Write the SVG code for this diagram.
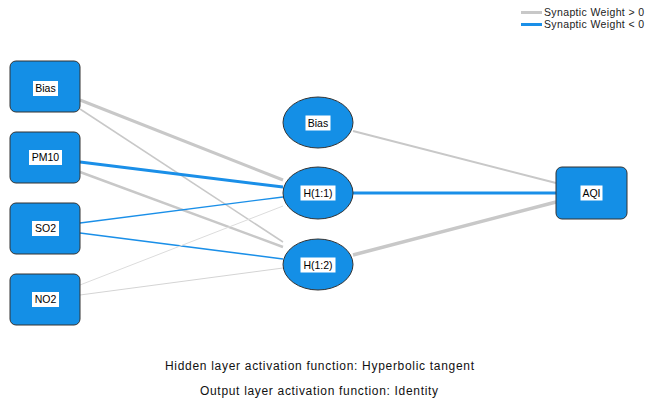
<svg xmlns="http://www.w3.org/2000/svg" width="645" height="403" viewBox="0 0 645 403">
<style>
.node{fill:#148fe6;stroke:#333;stroke-width:1}
.lbg{fill:#fff}
.lbl{font-family:"Liberation Sans",Arial,sans-serif;font-size:10.5px;fill:#000;text-anchor:middle}
.pos{stroke:#c8c8c8;fill:none;stroke-linecap:butt}
.neg{stroke:#1a8fe8;fill:none}
.leg{font-family:"Liberation Sans",Arial,sans-serif;font-size:10.5px;fill:#222}
.foot{font-family:"Liberation Sans",Arial,sans-serif;font-size:12px;fill:#111;text-anchor:middle}
</style>
<rect width="645" height="403" fill="#fff"/>
<g id="legend">
<line x1="521" y1="12.5" x2="542" y2="12.5" class="pos" stroke-width="3"/>
<text x="544" y="16" class="leg" textLength="100" lengthAdjust="spacing">Synaptic Weight &gt; 0</text>
<line x1="521" y1="24.5" x2="542" y2="24.5" class="neg" stroke-width="3"/>
<text x="544" y="28" class="leg" textLength="100" lengthAdjust="spacing">Synaptic Weight &lt; 0</text>
</g>
<g id="connectors">
<line x1="80" y1="100" x2="283" y2="180" class="pos" stroke-width="3"/>
<line x1="80" y1="109" x2="283" y2="242" class="pos" stroke-width="1.5"/>
<line x1="80" y1="162" x2="283" y2="187" class="neg" stroke-width="3"/>
<line x1="80" y1="172" x2="283" y2="247" class="pos" stroke-width="2.5"/>
<line x1="80" y1="223" x2="283" y2="197" class="neg" stroke-width="1.3"/>
<line x1="80" y1="233" x2="283" y2="259" class="neg" stroke-width="1.5"/>
<line x1="80" y1="285" x2="283" y2="206" stroke="#dcdcdc" stroke-width="1"/>
<line x1="80" y1="295" x2="283" y2="268" stroke="#d4d4d4" stroke-width="1"/>
<line x1="353" y1="131" x2="556" y2="183" class="pos" stroke-width="2"/>
<line x1="353" y1="193" x2="556" y2="193" class="neg" stroke-width="3"/>
<line x1="353" y1="255" x2="556" y2="202" class="pos" stroke-width="3.5"/>
</g>
<g id="in_bias">
<rect x="10" y="61" width="70" height="51" rx="6" class="node"/>
<rect x="33" y="81" width="25" height="15" class="lbg"/>
<text x="45.5" y="92" class="lbl">Bias</text>
</g>
<g id="in_pm10">
<rect x="10" y="132" width="70" height="51" rx="6" class="node"/>
<rect x="29" y="150" width="33" height="15" class="lbg"/>
<text x="45.5" y="161" class="lbl">PM10</text>
</g>
<g id="in_so2">
<rect x="10" y="203" width="70" height="51" rx="6" class="node"/>
<rect x="32" y="221" width="27" height="15" class="lbg"/>
<text x="45.5" y="232" class="lbl">SO2</text>
</g>
<g id="in_no2">
<rect x="10" y="274" width="70" height="51" rx="6" class="node"/>
<rect x="32" y="292" width="27" height="15" class="lbg"/>
<text x="45.5" y="303" class="lbl">NO2</text>
</g>
<g id="h_bias">
<ellipse cx="318" cy="122.5" rx="35" ry="25.5" class="node"/>
<rect x="305.5" y="115.5" width="25" height="15" class="lbg"/>
<text x="318" y="126.5" class="lbl">Bias</text>
</g>
<g id="h11">
<ellipse cx="318" cy="193" rx="35" ry="26" class="node"/>
<rect x="300.5" y="185.5" width="35" height="15" class="lbg"/>
<text x="318" y="196.5" class="lbl">H(1:1)</text>
</g>
<g id="h12">
<ellipse cx="318" cy="264.5" rx="35" ry="25.5" class="node"/>
<rect x="300.5" y="257.5" width="35" height="15" class="lbg"/>
<text x="318" y="268.5" class="lbl">H(1:2)</text>
</g>
<g id="out_aqi">
<rect x="556" y="167" width="71" height="52" rx="6" class="node"/>
<rect x="580.5" y="185.5" width="22" height="15" class="lbg"/>
<text x="591.5" y="196.5" class="lbl">AQI</text>
</g>
<text x="319.5" y="370" class="foot" textLength="309" lengthAdjust="spacing">Hidden layer activation function: Hyperbolic tangent</text>
<text x="319" y="395" class="foot" textLength="238" lengthAdjust="spacing">Output layer activation function: Identity</text>
</svg>
